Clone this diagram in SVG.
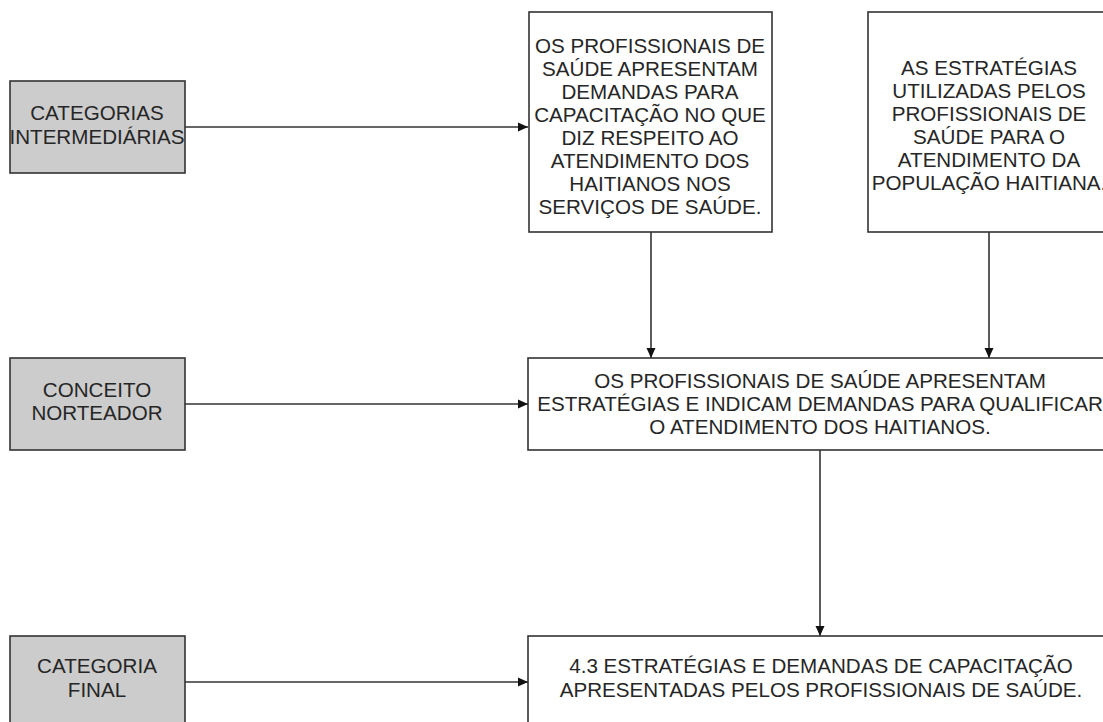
<svg xmlns="http://www.w3.org/2000/svg" width="1103" height="722" viewBox="0 0 1103 722">
<style>
.box{fill:#ffffff;stroke:#333333;stroke-width:1.6}
.gray{fill:#cccccc;stroke:#333333;stroke-width:1.6}
text{font-family:"Liberation Sans",Arial,sans-serif;font-size:20.6px;fill:#262626;text-anchor:middle}
.edge{stroke:#333333;stroke-width:1.6;fill:none;marker-end:url(#arr)}
</style>
<defs>
<marker id="arr" markerWidth="10" markerHeight="10" viewBox="0 0 10 10" refX="10" refY="5" orient="auto" markerUnits="userSpaceOnUse">
<path d="M0,0.5 L10,5 L0,9.5 Z" fill="#111111"/>
</marker>
</defs>
<rect width="1103" height="722" fill="#ffffff"/>
<g id="connectors">
<path class="edge" d="M185,127 H528"/>
<path class="edge" d="M185,404 H528"/>
<path class="edge" d="M185,682 H528"/>
<path class="edge" d="M651,232 V358"/>
<path class="edge" d="M989,232 V358"/>
<path class="edge" d="M820,450 V636"/>
</g>
<g id="cat-intermediarias">
<rect class="gray" x="10" y="81" width="175" height="92"/>
<text x="97" y="120">CATEGORIAS</text>
<text x="97" y="144">INTERMEDIÁRIAS</text>
</g>
<g id="conceito-norteador">
<rect class="gray" x="10" y="358" width="175" height="92"/>
<text x="97" y="397">CONCEITO</text>
<text x="97" y="420">NORTEADOR</text>
</g>
<g id="categoria-final">
<rect class="gray" x="10" y="636" width="175" height="100"/>
<text x="97" y="673">CATEGORIA</text>
<text x="97" y="697">FINAL</text>
</g>
<g id="demandas">
<rect class="box" x="529" y="12" width="243" height="220"/>
<text x="650" y="53">OS PROFISSIONAIS DE</text>
<text x="650" y="76">SAÚDE APRESENTAM</text>
<text x="650" y="99">DEMANDAS PARA</text>
<text x="650" y="122">CAPACITAÇÃO NO QUE</text>
<text x="650" y="145">DIZ RESPEITO AO</text>
<text x="650" y="168">ATENDIMENTO DOS</text>
<text x="650" y="191">HAITIANOS NOS</text>
<text x="650" y="214">SERVIÇOS DE SAÚDE.</text>
</g>
<g id="estrategias">
<rect class="box" x="868" y="12" width="244" height="220"/>
<text x="989" y="75">AS ESTRATÉGIAS</text>
<text x="989" y="98">UTILIZADAS PELOS</text>
<text x="989" y="121">PROFISSIONAIS DE</text>
<text x="989" y="144">SAÚDE PARA O</text>
<text x="989" y="167">ATENDIMENTO DA</text>
<text x="989" y="190">POPULAÇÃO HAITIANA.</text>
</g>
<g id="conceito">
<rect class="box" x="528" y="358" width="584" height="92"/>
<text x="820" y="388">OS PROFISSIONAIS DE SAÚDE APRESENTAM</text>
<text x="820" y="411">ESTRATÉGIAS E INDICAM DEMANDAS PARA QUALIFICAR</text>
<text x="820" y="434">O ATENDIMENTO DOS HAITIANOS.</text>
</g>
<g id="final">
<rect class="box" x="528" y="636" width="584" height="100"/>
<text x="821" y="673">4.3 ESTRATÉGIAS E DEMANDAS DE CAPACITAÇÃO</text>
<text x="821" y="697">APRESENTADAS PELOS PROFISSIONAIS DE SAÚDE.</text>
</g>
</svg>
